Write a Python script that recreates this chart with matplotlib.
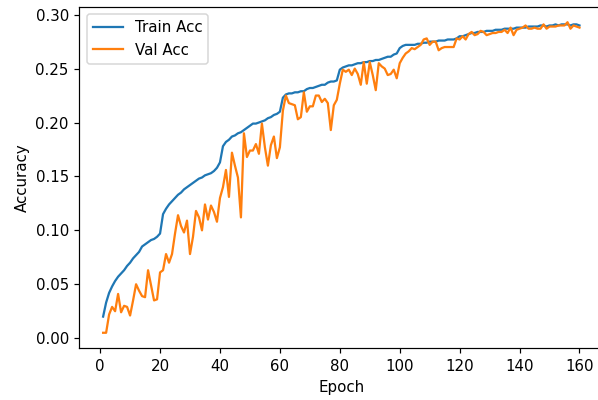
import matplotlib
matplotlib.use("Agg")
import matplotlib.pyplot as plt
import numpy as np

epochs = list(range(1, 161))

train_acc = [
    0.020, 0.033, 0.042, 0.048, 0.053, 0.057, 0.060, 0.063, 0.067, 0.070,
    0.074, 0.077, 0.080, 0.085, 0.087, 0.089, 0.091, 0.092, 0.094, 0.097,
    0.115, 0.120, 0.124, 0.127, 0.130, 0.133, 0.135, 0.138, 0.140, 0.142,
    0.144, 0.146, 0.148, 0.149, 0.151, 0.152, 0.153, 0.155, 0.158, 0.163,
    0.178, 0.182, 0.184, 0.187, 0.188, 0.190, 0.191, 0.193, 0.195, 0.197,
    0.199, 0.199, 0.200, 0.201, 0.202, 0.204, 0.205, 0.207, 0.208, 0.210,
    0.223, 0.226, 0.227, 0.227, 0.228, 0.228, 0.229, 0.229, 0.231, 0.232,
    0.232, 0.233, 0.234, 0.235, 0.235, 0.237, 0.238, 0.238, 0.239, 0.249,
    0.251, 0.252, 0.253, 0.253, 0.254, 0.255, 0.255, 0.256, 0.256, 0.257,
    0.257, 0.258, 0.258, 0.259, 0.260, 0.261, 0.261, 0.263, 0.264, 0.269,
    0.271, 0.272, 0.272, 0.272, 0.272, 0.273, 0.273, 0.274, 0.274, 0.275,
    0.275, 0.275, 0.276, 0.276, 0.276, 0.277, 0.277, 0.277, 0.278, 0.280,
    0.280, 0.281, 0.282, 0.283, 0.283, 0.284, 0.284, 0.284, 0.285, 0.285,
    0.285, 0.286, 0.286, 0.286, 0.287, 0.287, 0.287, 0.287, 0.288, 0.288,
    0.288, 0.288, 0.289, 0.289, 0.289, 0.289, 0.290, 0.290, 0.289, 0.290,
    0.290, 0.291, 0.290, 0.291, 0.291, 0.291, 0.290, 0.291, 0.291, 0.290,
]

val_acc = [
    0.005, 0.005, 0.022, 0.029, 0.025, 0.041, 0.024, 0.030, 0.029, 0.021,
    0.035, 0.050, 0.044, 0.039, 0.038, 0.063, 0.049, 0.035, 0.036, 0.061,
    0.063, 0.078, 0.070, 0.078, 0.097, 0.114, 0.104, 0.098, 0.109, 0.078,
    0.094, 0.118, 0.112, 0.100, 0.124, 0.110, 0.123, 0.117, 0.108, 0.130,
    0.140, 0.156, 0.131, 0.172, 0.160, 0.149, 0.112, 0.190, 0.168, 0.174,
    0.174, 0.180, 0.171, 0.199, 0.177, 0.160, 0.179, 0.187, 0.167, 0.177,
    0.211, 0.225, 0.218, 0.217, 0.216, 0.203, 0.205, 0.228, 0.210, 0.215,
    0.215, 0.225, 0.225, 0.219, 0.222, 0.218, 0.193, 0.216, 0.221, 0.236,
    0.249, 0.247, 0.249, 0.244, 0.250, 0.245, 0.235, 0.256, 0.236, 0.256,
    0.244, 0.230, 0.255, 0.252, 0.250, 0.244, 0.245, 0.249, 0.241, 0.255,
    0.260, 0.264, 0.266, 0.269, 0.268, 0.270, 0.272, 0.277, 0.278, 0.272,
    0.275, 0.275, 0.267, 0.269, 0.270, 0.270, 0.270, 0.270, 0.278, 0.277,
    0.280, 0.277, 0.282, 0.284, 0.281, 0.282, 0.285, 0.284, 0.281, 0.282,
    0.283, 0.283, 0.284, 0.284, 0.286, 0.283, 0.288, 0.281, 0.286, 0.287,
    0.288, 0.290, 0.287, 0.287, 0.288, 0.287, 0.287, 0.291, 0.287, 0.289,
    0.289, 0.289, 0.290, 0.290, 0.290, 0.293, 0.287, 0.290, 0.289, 0.288,
]

DPI = 108
fig = plt.figure(figsize=(598 / DPI, 400 / DPI), dpi=DPI)
ax = fig.add_axes([79.3 / 598, 1 - 348.3 / 400, (603.3 - 79.3) / 598, (348.3 - 6.7) / 400])
ax.plot(epochs, train_acc, label="Train Acc")
ax.plot(epochs, val_acc, label="Val Acc")
ax.set_xlabel("Epoch")
ax.set_ylabel("Accuracy")
ax.set_xticks([0, 20, 40, 60, 80, 100, 120, 140, 160])
ax.set_yticks([0.00, 0.05, 0.10, 0.15, 0.20, 0.25, 0.30])
ax.spines["right"].set_visible(False)
ax.legend(loc="upper left")
fig.savefig("out.png", dpi=DPI)
